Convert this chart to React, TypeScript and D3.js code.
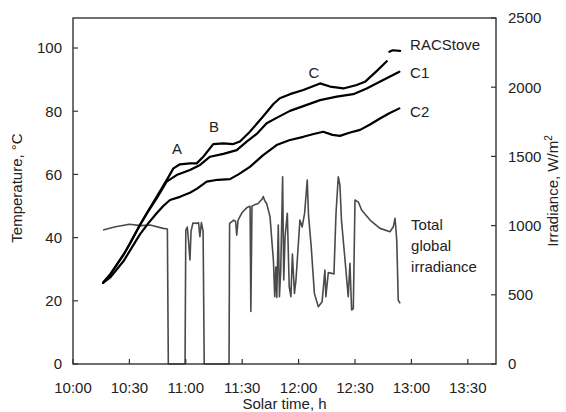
import React from 'react';
import * as d3 from 'd3';

// ---- data (time in minutes after 10:00) ----
const xTickMinutes = [0, 30, 60, 90, 120, 150, 180, 210];
const xTickLabels = ['10:00', '10:30', '11:00', '11:30', '12:00', '12:30', '13:00', '13:30'];
const tempTicks = [0, 20, 40, 60, 80, 100];
const irrTicks = [0, 500, 1000, 1500, 2000, 2500];

const racTime = [16, 20, 26.8, 30, 35.6, 40, 44.5, 49.8, 53.4, 56.9, 62.2, 65.8, 69.3, 74.6, 80, 85.3, 88.8, 94.1, 101.2, 106.6, 110, 115.4, 122.5, 131.4, 136.7, 143.8, 150.9, 155.3, 161.5, 166.9, 167.6, 168.3, 170, 174];
const racTemp: (number | null)[] = [25.7, 28.5, 34.5, 37.8, 44, 48.5, 52.9, 58.2, 61.9, 63.2, 63.5, 63.5, 65.6, 69.6, 69.8, 69.6, 70.4, 73.5, 78.4, 82.3, 84.1, 85.4, 86.7, 88.8, 87.8, 87.2, 88.3, 89.3, 92.7, 95.8, null, 98.8, 99.3, 99.1];

const c1Time = [16, 20, 26.8, 30, 35.6, 40, 44.5, 49.8, 55.1, 62.2, 67.6, 72.9, 80, 87.1, 92.4, 97.7, 103, 108.3, 115.4, 122.5, 131.4, 140.3, 149.1, 156.2, 165, 173.6];
const c1Temp = [25.7, 28.5, 34.5, 37.8, 44, 48.3, 52.4, 57.7, 59.8, 61.4, 63, 65.6, 66.5, 67.7, 70.4, 72.8, 76.2, 77.9, 80.1, 81.6, 83.5, 84.6, 85.4, 87.2, 89.9, 92.5];

const c2Time = [16, 20, 26.8, 35.6, 40, 44.5, 48, 51.6, 56.9, 62.2, 66, 71.1, 77, 83.5, 88, 94.1, 101, 108.3, 115, 122.5, 128, 133.1, 138, 142, 147, 152.7, 158, 163.3, 168, 173.6];
const c2Temp = [25.7, 27.5, 32.5, 41, 44.5, 47.7, 50, 51.9, 52.9, 54.2, 55.5, 57.7, 58.3, 58.5, 60, 62.4, 66, 69.3, 70.8, 71.9, 72.8, 73.5, 72.5, 72.2, 73.2, 74.1, 75.8, 77.7, 79.3, 80.9];

const irrTime = [16, 22, 30, 36, 41, 48, 50.2, 50.7, 59.6, 60, 60.8, 61.5, 62.2, 62.8, 63.8, 65.5, 66.8, 67.5, 68.3, 69.2, 69.8, 83, 83.3, 85.5, 86.5, 87.1, 87.8, 90, 92.5, 94.2, 94.6, 95.2, 96.5, 98.5, 100.5, 101.2, 102, 103, 104.8, 106, 106.6, 107.3, 107.9, 108.4, 109.2, 109.8, 110.5, 111.5, 112.1, 112.8, 114, 115, 115.9, 116.7, 117.8, 118.6, 120.7, 121.9, 123.2, 124.6, 125.3, 126.7, 128.4, 130.5, 132.5, 134, 134.5, 135.8, 137.6, 138.8, 139.9, 141.1, 142, 142.8, 144.7, 146.4, 147.3, 148.2, 149.1, 150, 151.8, 153.5, 158, 163.3, 168.6, 170.4, 171.3, 172.2, 173, 174];
const irrValue = [968, 990, 1010, 1000, 1004, 980, 975, 0, 0, 968, 990, 880, 751, 960, 1019, 1016, 1020, 920, 1022, 960, 0, 0, 1016, 1040, 1030, 930, 1040, 1095, 1130, 1140, 380, 1140, 1150, 1160, 1190, 1210, 1180, 1160, 1065, 850, 751, 486, 700, 480, 1004, 486, 680, 1353, 607, 920, 1089, 560, 486, 795, 510, 607, 1040, 990, 1090, 1329, 1070, 850, 510, 414, 450, 679, 486, 660, 655, 650, 1089, 1353, 1290, 1040, 751, 486, 728, 390, 400, 1185, 1170, 1113, 1040, 980, 956, 992, 1052, 896, 462, 438];

const annotText = ['A', 'B', 'C'];
const annotTime = [55.3, 75, 128.2];
const annotTemp = [66.5, 73.5, 90.4];

const seriesLabels = ['RACStove', 'C1', 'C2'];
const seriesLabelTemp = [99.3, 90.5, 78.2];
const irrLabelLines = ['Total', 'global', 'irradiance'];

// ---- layout ----
const W = 566, H = 412;
const L = 73, R = 496, T = 18, B = 364;
const FONT = '"Liberation Sans", Arial, sans-serif';
const TXT = '#222';

export default function App() {
  const x = d3.scaleLinear().domain([0, 225]).range([L, R]);
  const yT = d3.scaleLinear().domain([0, 109.5]).range([B, T]);
  const yI = d3.scaleLinear().domain([0, 2500]).range([B, T]);

  const tLine = d3.line<[number, number | null]>()
    .defined(d => d[1] !== null)
    .x(d => x(d[0]))
    .y(d => yT(d[1] as number));
  const iLine = d3.line<[number, number]>().x(d => x(d[0])).y(d => yI(d[1]));

  const rac = racTime.map((t, i) => [t, racTemp[i]] as [number, number | null]);
  const c1 = c1Time.map((t, i) => [t, c1Temp[i]] as [number, number | null]);
  const c2 = c2Time.map((t, i) => [t, c2Temp[i]] as [number, number | null]);
  const irr = irrTime.map((t, i) => [t, irrValue[i]] as [number, number]);

  const fs = 15;
  const labelX = x(179.3);

  return (
    <svg width={W} height={H} style={{ position: 'absolute', left: 0, top: 0, background: '#fff' }}
      fontFamily={FONT}>
      <rect x={0} y={0} width={W} height={H} fill="#fff" />
      {/* irradiance */}
      <path d={iLine(irr) || ''} fill="none" stroke="#4a4a4a" strokeWidth={1.6} strokeLinejoin="round" />
      {/* temperatures */}
      {[rac, c1, c2].map((s, i) => (
        <path key={i} d={tLine(s) || ''} fill="none" stroke="#000" strokeWidth={2.2} strokeLinejoin="round" strokeLinecap="round" />
      ))}
      {/* frame */}
      <rect x={L} y={T} width={R - L} height={B - T} fill="none" stroke="#333" strokeWidth={1.4} />
      {/* x ticks */}
      {xTickMinutes.map((m, i) => (
        <g key={'x' + i}>
          <line x1={x(m)} x2={x(m)} y1={B} y2={B - 5} stroke="#333" strokeWidth={1.2} />
          <text x={x(m)} y={393} textAnchor="middle" fontSize={fs} fill={TXT}>{xTickLabels[i]}</text>
        </g>
      ))}
      {/* left ticks */}
      {tempTicks.map((v, i) => (
        <g key={'l' + i}>
          <line x1={L} x2={L + 5} y1={yT(v)} y2={yT(v)} stroke="#333" strokeWidth={1.2} />
          <text x={62} y={yT(v)} dy="0.36em" textAnchor="end" fontSize={fs} fill={TXT}>{v}</text>
        </g>
      ))}
      {/* right ticks */}
      {irrTicks.map((v, i) => (
        <g key={'r' + i}>
          <line x1={R - 5} x2={R} y1={yI(v)} y2={yI(v)} stroke="#333" strokeWidth={1.2} />
          <text x={508} y={yI(v)} dy="0.36em" textAnchor="start" fontSize={fs} fill={TXT}>{v}</text>
        </g>
      ))}
      {/* axis titles */}
      <text x={(L + R) / 2} y={409} textAnchor="middle" fontSize={fs} fill={TXT}>Solar time, h</text>
      <text transform={`translate(22,188) rotate(-90)`} textAnchor="middle" fontSize={fs} fill={TXT}>Temperature, °C</text>
      <text transform={`translate(558,191) rotate(-90)`} textAnchor="middle" fontSize={fs} fill={TXT}>
        Irradiance, W/m<tspan fontSize={10} dy={-6}>2</tspan>
      </text>
      {/* annotations */}
      {annotText.map((s, i) => (
        <text key={'a' + i} x={x(annotTime[i])} y={yT(annotTemp[i])} textAnchor="middle" fontSize={fs} fill={TXT}>{s}</text>
      ))}
      {seriesLabels.map((s, i) => (
        <text key={'s' + i} x={labelX} y={yT(seriesLabelTemp[i])} fontSize={fs} fill={TXT}>{s}</text>
      ))}
      {irrLabelLines.map((s, i) => (
        <text key={'i' + i} x={labelX + 1} y={230 + i * 21} fontSize={fs} fill={TXT}>{s}</text>
      ))}
    </svg>
  );
}
